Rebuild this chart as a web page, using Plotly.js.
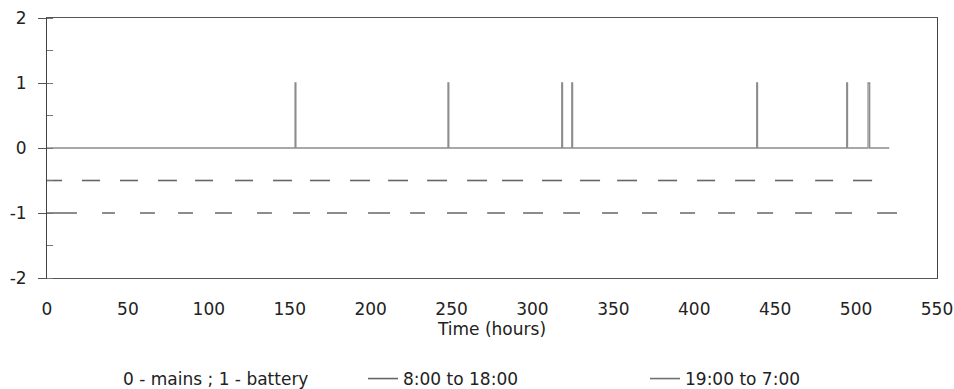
<!DOCTYPE html>
<html>
<head>
<meta charset="utf-8">
<script src="https://cdn.plot.ly/plotly-3.0.1.min.js"></script>
<style>
  html, body { margin: 0; padding: 0; background: #ffffff; }
  #chart { width: 954px; height: 389px; }
</style>
</head>
<body>
<div id="chart"></div>
<script>
// ---- Data (time in hours) ----
// Supply state: 0 = mains, 1 = battery. Battery episodes (start / end hours).
const batteryStart = [153.3, 247.8, 318.1, 324.3, 438.6, 494.2, 507.4];
const batteryEnd   = [153.8, 248.3, 318.6, 324.8, 439.1, 494.7, 508.4];
const recordStart = 0;
const recordEnd = 520.5;

// Daytime periods 8:00 to 18:00 (drawn at -0.5)
const dayStart = [0, 21.6, 45.1, 68.6, 91.5, 116.2, 139.7, 162.5, 187.3, 210.8, 234.9,
                  259.6, 281.2, 305.9, 329.4, 352.3, 377.6, 401.7, 425.2, 449.9, 474.7, 498.1];
const dayEnd   = [9.3, 32.8, 56.2, 80.3, 102.6, 127.3, 151.4, 174.9, 199.6, 223.1, 247.2,
                  271.9, 294.2, 318.3, 341.8, 364.6, 389.4, 412.9, 437.6, 461.1, 485.8, 509.9];
const dayLevel = -0.5;

// Night periods 19:00 to 7:00 (drawn at -1)
const nightStart = [0, 34, 57.5, 81, 103.8, 129.8, 152, 173, 198.4, 224.4, 247.2,
                    272, 294.2, 319, 343, 367.7, 391.2, 414.7, 438.8, 462.3, 487, 513];
const nightEnd   = [18.5, 42, 66.7, 90.2, 114.3, 139, 162.5, 185.4, 212, 233.6, 259.6,
                    283, 306.5, 329.4, 352.9, 377, 400.5, 425.2, 448.7, 472.8, 497.5, 525.3];
const nightLevel = -1;

const seriesNames = ['0 - mains ; 1 - battery', '8:00 to 18:00', '19:00 to 7:00'];
const xTicks = [0, 50, 100, 150, 200, 250, 300, 350, 400, 450, 500, 550];
const yTicks = [-2, -1, 0, 1, 2];

// ---- Build traces from the arrays ----
function stateSeries() {
  const x = [recordStart], y = [0];
  for (let i = 0; i < batteryStart.length; i++) {
    x.push(batteryStart[i], batteryStart[i], batteryEnd[i], batteryEnd[i]);
    y.push(0, 1, 1, 0);
  }
  x.push(recordEnd); y.push(0);
  return {x, y};
}
function segments(starts, ends, level) {
  const x = [], y = [];
  for (let i = 0; i < starts.length; i++) {
    x.push(starts[i], ends[i], null);
    y.push(level, level, null);
  }
  return {x, y};
}
const st = stateSeries();
const dy = segments(dayStart, dayEnd, dayLevel);
const nt = segments(nightStart, nightEnd, nightLevel);

const traces = [
  { x: st.x, y: st.y, type: 'scatter', mode: 'lines', showlegend: false,
    line: { color: '#8c8c8c', width: 1.3 }, hoverinfo: 'skip' },
  { x: [null], y: [null], type: 'scatter', mode: 'lines', name: seriesNames[0],
    legend: 'legend', line: { color: 'rgba(255,255,255,0)', width: 1 } },
  { x: dy.x, y: dy.y, type: 'scatter', mode: 'lines', name: seriesNames[1],
    legend: 'legend2', line: { color: '#666666', width: 1.6 }, connectgaps: false },
  { x: nt.x, y: nt.y, type: 'scatter', mode: 'lines', name: seriesNames[2],
    legend: 'legend3', line: { color: '#707070', width: 1.6 }, connectgaps: false }
];

const font = { family: 'DejaVu Sans, Arial, sans-serif', size: 17, color: '#222222' };
const legendBase = { orientation: 'h', xref: 'container', yref: 'container',
  xanchor: 'left', yanchor: 'middle', y: 1 - 379 / 389,
  font: font, bgcolor: 'rgba(0,0,0,0)', borderwidth: 0 };

const layout = {
  width: 954, height: 389,
  margin: { l: 47, r: 17, t: 18, b: 111 },
  paper_bgcolor: '#ffffff', plot_bgcolor: '#ffffff',
  font: font,
  showlegend: true,
  xaxis: {
    range: [0, 550], tickvals: xTicks, ticktext: xTicks.map(String),
    showgrid: false, zeroline: false, showline: true, mirror: true,
    linecolor: '#555555', linewidth: 1, ticks: '', ticklabelstandoff: 16,
    tickfont: font,
    title: { text: 'Time (hours)', font: font, standoff: 4 }
  },
  yaxis: {
    range: [-2, 2], tickvals: yTicks, ticktext: yTicks.map(String),
    showgrid: false, zeroline: false, showline: true, mirror: true,
    linecolor: '#444444', linewidth: 1, ticks: 'outside', ticklen: 8,
    tickcolor: '#555555', ticklabelstandoff: 8, tickfont: font,
    minor: { dtick: 0.5, ticks: 'inside', ticklen: 6, tickcolor: '#777777' }
  },
  legend: Object.assign({}, legendBase, { x: 83 / 954 }),
  legend2: Object.assign({}, legendBase, { x: 363 / 954 }),
  legend3: Object.assign({}, legendBase, { x: 645 / 954 })
};

Plotly.newPlot('chart', traces, layout, { displayModeBar: false, staticPlot: true });
</script>
</body>
</html>
